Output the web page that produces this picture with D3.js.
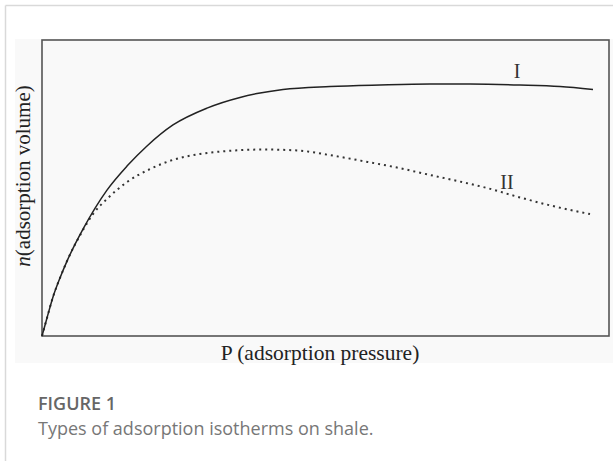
<!DOCTYPE html>
<html>
<head>
<meta charset="utf-8">
<script src="https://cdn.jsdelivr.net/npm/d3@7"></script>
<style>
  html, body { margin: 0; padding: 0; background: #fff; }
  #chart { width: 613px; height: 461px; }
</style>
</head>
<body>
<div id="chart"></div>
<script>
// pressure (x) and adsorption volume (y), arbitrary units 0-100
var typeIPressure = [0, 0.88, 1.94, 3.17, 4.41, 7.23, 11.46, 14.99, 18.52, 23.10, 29.10, 34.92, 37.92, 42.50, 50.79, 59.61, 68.43, 75.49, 84.30, 91.36, 97.18]
var typeIVolume   = [0, 6.1, 13.2, 19.6, 25.3, 36.1, 49.3, 57.4, 64.2, 71.3, 77.0, 80.6, 81.9, 83.3, 84.3, 84.8, 85.1, 85.1, 84.8, 84.3, 83.3]

var typeIIPressure = [0, 0.88, 1.94, 3.17, 4.41, 7.23, 8.99, 11.46, 14.99, 19.05, 23.10, 27.87, 32.63, 38.98, 44.97, 50.79, 56.61, 62.61, 68.43, 72.49, 78.48, 84.30, 90.12, 96.65]
var typeIIVolume   = [0, 6.1, 13.2, 19.6, 25.3, 35.8, 41.2, 46.3, 52.0, 56.4, 59.5, 61.5, 62.5, 63.0, 62.7, 61.1, 59.1, 56.9, 54.4, 52.7, 50.0, 46.8, 43.9, 41.2]

var curveLabels = ["I", "II"]
var curveLabelPos = [[83.8, 87.2], [82.0, 49.7]]

var xTitle = "P (adsorption pressure)"
var yTitleItalic = "n"
var yTitle = "(adsorption volume)"
var figTitle = "FIGURE 1"
var figCaption = "Types of adsorption isotherms on shale."

var W = 613, H = 461
var margin = { top: 40, right: 4, bottom: 125, left: 42 }
var width = W - margin.left - margin.right
var height = H - margin.top - margin.bottom

var svg = d3.select("#chart")
  .append("svg")
    .attr("width", W)
    .attr("height", H)

// card frame (top and left rules)
svg.append("line")
  .attr("x1", 5.5).attr("y1", 5.5).attr("x2", W).attr("y2", 5.5)
  .attr("stroke", "#d9d9d9").attr("stroke-width", 1.5)
svg.append("line")
  .attr("x1", 5.5).attr("y1", 5.5).attr("x2", 5.5).attr("y2", H)
  .attr("stroke", "#d9d9d9").attr("stroke-width", 1.5)

// figure image background
svg.append("rect")
  .attr("x", 15).attr("y", 39)
  .attr("width", W - 15).attr("height", 324)
  .attr("fill", "#f9f9f9")

var x = d3.scaleLinear()
  .domain([0, 100])
  .range([0, width])

var y = d3.scaleLinear()
  .domain([0, 100])
  .range([height, 0])

var g = svg.append("g")
  .attr("transform", "translate(" + margin.left + "," + margin.top + ")")

// plot frame
g.append("rect")
  .attr("x", 0).attr("y", 0)
  .attr("width", width).attr("height", height)
  .attr("fill", "none")
  .attr("stroke", "#555")
  .attr("stroke-width", 1.6)

var line = d3.line()
  .x(function(d) { return x(d[0]) })
  .y(function(d) { return y(d[1]) })
  .curve(d3.curveMonotoneX)

var typeI = d3.zip(typeIPressure, typeIVolume)
var typeII = d3.zip(typeIIPressure, typeIIVolume)

g.append("path")
  .datum(typeII)
  .attr("d", line)
  .attr("fill", "none")
  .attr("stroke", "#333")
  .attr("stroke-width", 2)
  .attr("stroke-dasharray", "2,4")

g.append("path")
  .datum(typeI)
  .attr("d", line)
  .attr("fill", "none")
  .attr("stroke", "#222")
  .attr("stroke-width", 1.5)

// curve labels
g.selectAll("text.curve-label")
  .data(curveLabels)
  .enter()
  .append("text")
    .attr("class", "curve-label")
    .attr("x", function(d, i) { return x(curveLabelPos[i][0]) })
    .attr("y", function(d, i) { return y(curveLabelPos[i][1]) })
    .attr("text-anchor", "middle")
    .style("font-family", "'Liberation Serif', 'DejaVu Serif', serif")
    .style("font-size", "20px")
    .style("fill", "#333")
    .text(function(d) { return d })

// x title
svg.append("text")
  .attr("x", 320)
  .attr("y", 360)
  .attr("text-anchor", "middle")
  .style("font-family", "'Liberation Serif', 'DejaVu Serif', serif")
  .style("font-size", "21.5px")
  .style("fill", "#222")
  .text(xTitle)

// y title
var yt = svg.append("text")
  .attr("transform", "translate(30,176) rotate(-90)")
  .attr("text-anchor", "middle")
  .style("font-family", "'Liberation Serif', 'DejaVu Serif', serif")
  .style("font-size", "21px")
  .style("fill", "#222")
yt.append("tspan").style("font-style", "italic").text(yTitleItalic)
yt.append("tspan").text(yTitle)

// caption
svg.append("text")
  .attr("x", 38)
  .attr("y", 410)
  .style("font-family", "'Open Sans', Lato, sans-serif")
  .style("font-size", "18px")
  .style("font-weight", "600")
  .style("fill", "#666")
  .text(figTitle)

svg.append("text")
  .attr("x", 38)
  .attr("y", 435)
  .style("font-family", "'Open Sans', Lato, sans-serif")
  .style("font-size", "18px")
  .style("fill", "#777")
  .text(figCaption)
</script>
</body>
</html>
